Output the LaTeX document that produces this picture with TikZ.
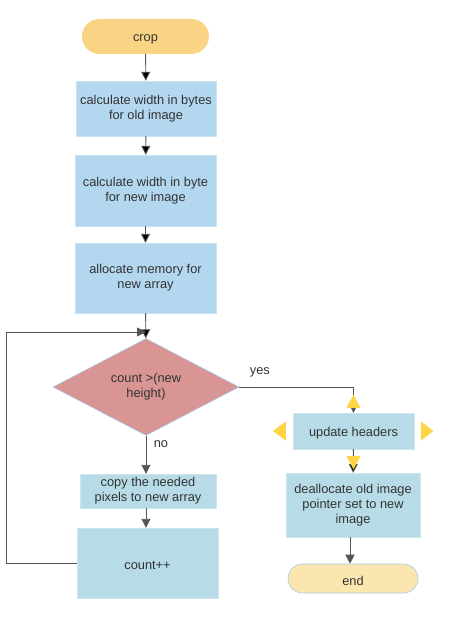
\documentclass[tikz,border=0pt]{standalone}
\usepackage{fontspec}
\setmainfont{Liberation Sans}
\usepackage{tikz}
\usetikzlibrary{positioning,calc,shapes.geometric,arrows.meta}
\definecolor{cropfill}{HTML}{FAD485}
\definecolor{endfill}{HTML}{FBE6AF}
\definecolor{stepblue}{HTML}{B3D7EF}
\definecolor{loopblue}{HTML}{B7DCE7}
\definecolor{decrose}{HTML}{D99593}
\definecolor{edgeblue}{HTML}{A9CBEA}
\definecolor{hoveryellow}{HTML}{FFD543}
\definecolor{linegray}{HTML}{555555}
\definecolor{txtgray}{HTML}{333333}

\begin{document}
\begin{tikzpicture}[x=1pt,y=-1pt,>={Triangle[width=9pt,length=9pt]},
                font=\fontsize{12.8}{15}\selectfont,text=txtgray,
                flow/.style={->,draw=linegray,line width=0.9pt},
                lowtext/.style={execute at begin node={\rule{0pt}{13.5pt}}},
                stepbox/.style={rectangle,fill=stepblue,draw=stepblue!70!white,align=center,inner sep=0pt,lowtext},
                loopbox/.style={rectangle,fill=loopblue,draw=loopblue!70!white,align=center,inner sep=0pt,lowtext},
                term/.style={rectangle,align=center,inner sep=0pt,lowtext},
                hover/.style={fill=hoveryellow}]
\useasboundingbox (0,0) rectangle (456,636);
%Nodes
    \node[term, fill=cropfill, rounded corners=17.5pt, minimum width=127pt, minimum height=35pt] (crop) at (145.5,36.5) {crop};
    \node[stepbox, minimum width=140pt, minimum height=55pt] (oldw) at (146,108.5) {calculate width in bytes\\for old image};
    \node[stepbox, minimum width=141pt, minimum height=71pt] (neww) at (145.5,190.5) {\raisebox{4pt}{\begin{tabular}{@{}c@{}}calculate width in byte\\for new image\end{tabular}}};
    \node[stepbox, minimum width=141pt, minimum height=70pt] (alloc) at (145.5,278) {allocate memory for\\new array};
    \node[diamond, fill=decrose, draw=edgeblue, line width=0.6pt, minimum width=186pt, minimum height=92pt, inner sep=0pt, align=center, lowtext] (cnt) at (146,387) {count >(new\\height)};
    \node[loopbox, minimum width=136pt, minimum height=34pt] (copy) at (148,491) {copy the needed\\pixels to new array};
    \node[loopbox, minimum width=141pt, minimum height=70pt] (inc) at (147.5,563) {count++};
    \node[loopbox, minimum width=121pt, minimum height=36pt] (upd) at (353.5,431) {update headers};
    \node[loopbox, minimum width=134pt, minimum height=64pt] (free) at (353,505) {deallocate old image\\pointer set to new\\image};
    \node[term, fill=endfill, draw=edgeblue, line width=0.6pt, rounded corners=14.5pt, minimum width=130pt, minimum height=29pt] (end) at (353,578.5) {end};
    \coordinate (back) at (146,332);

    \draw[flow] (crop) edge (oldw);
    \draw[flow] (oldw) edge (neww);
    \draw[flow] (neww) edge (alloc);
    \draw[flow] (alloc) edge (cnt);
    \draw[flow] (cnt.south) -- node[right, xshift=4pt, pos=0.22] {no} (copy.north -| cnt.south);
    \draw[flow] (copy.south -| cnt.south) -- (inc.north -| cnt.south);
    \draw[flow] (inc.west) -- (6,563) |- (back);
    \draw[flow] (cnt.east) -| node[pos=0.09, above, yshift=6pt] {yes} (upd.north);
    \draw[flow] (upd) edge (free);
    \draw[flow] (free.south -| 350,0) -- (end.north -| 350,0);

    % hover handles
    \fill[hover] ($(upd.north)+(-7,-5)$) -- ++(14,0) -- ++(-7,-13) -- cycle;
    \fill[hover] ($(upd.south)+(-7,7)$) -- ++(14,0) -- ++(-7,13) -- cycle;
    \fill[hover] ($(upd.west)+(-7,-9.5)$) -- ++(0,19) -- ++(-13,-9.5) -- cycle;
    \fill[hover] ($(upd.east)+(7,-9.5)$) -- ++(0,19) -- ++(12,-9.5) -- cycle;
\end{tikzpicture}
\end{document}
